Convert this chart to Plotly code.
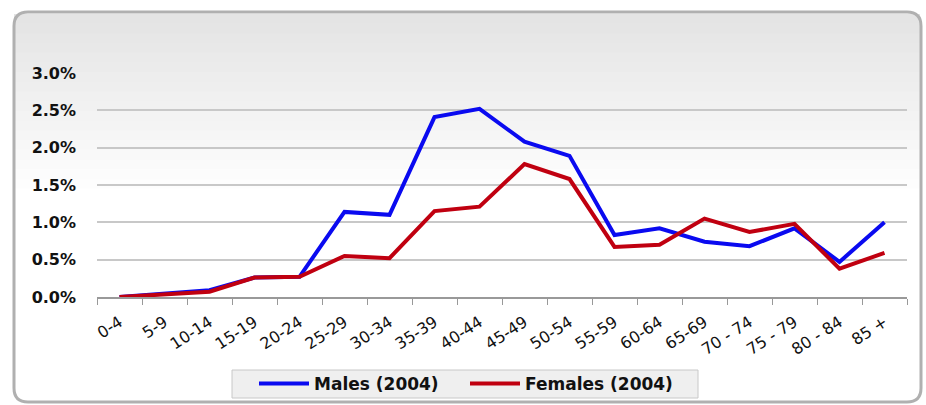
import plotly.graph_objects as go

age_groups = ["0-4", "5-9", "10-14", "15-19", "20-24", "25-29", "30-34", "35-39",
              "40-44", "45-49", "50-54", "55-59", "60-64", "65-69", "70 - 74",
              "75 - 79", "80 - 84", "85 +"]
males_2004 = [0.00, 0.04, 0.09, 0.26, 0.27, 1.14, 1.10, 2.41, 2.52, 2.08, 1.89,
              0.83, 0.92, 0.74, 0.68, 0.92, 0.47, 1.00]
females_2004 = [0.00, 0.04, 0.07, 0.26, 0.27, 0.55, 0.52, 1.15, 1.21, 1.78, 1.58,
                0.67, 0.70, 1.05, 0.87, 0.98, 0.38, 0.59]
y_ticks = [0, 0.5, 1.0, 1.5, 2.0, 2.5, 3.0]
y_tick_labels = ["0.0%", "0.5%", "1.0%", "1.5%", "2.0%", "2.5%", "3.0%"]

W, H = 926, 405
ML, MR, MT, MB = 97, 19, 73, 108
PW, PH = W - ML - MR, H - MT - MB


def px(x):
    return (x - ML) / PW


def py(y):
    return (H - MB - y) / PH


fig = go.Figure()
fig.add_trace(go.Scatter(x=age_groups, y=males_2004, mode="lines", name="Males (2004)",
                         line=dict(color="#0a0af0", width=4)))
fig.add_trace(go.Scatter(x=age_groups, y=females_2004, mode="lines", name="Females (2004)",
                         line=dict(color="#c00010", width=4)))

shapes = []
# gradient background bands
top, bottom = 14, 402
n = 40
for i in range(n):
    y0 = top + (bottom - top) * i / n
    y1 = top + (bottom - top) * (i + 1) / n
    t = min(1.0, i / (n * 0.45))
    g = int(228 + (255 - 228) * t)
    shapes.append(dict(type="rect", xref="paper", yref="paper", layer="below",
                       x0=px(14), x1=px(920), y0=py(y0), y1=py(y1 + 0.5),
                       line=dict(width=0), fillcolor=f"rgb({g},{g},{g})"))


def rounded(x0, y0, x1, y1, r):
    return (f"M {px(x0 + r)},{py(y0)} L {px(x1 - r)},{py(y0)} "
            f"Q {px(x1)},{py(y0)} {px(x1)},{py(y0 + r)} "
            f"L {px(x1)},{py(y1 - r)} Q {px(x1)},{py(y1)} {px(x1 - r)},{py(y1)} "
            f"L {px(x0 + r)},{py(y1)} Q {px(x0)},{py(y1)} {px(x0)},{py(y1 - r)} "
            f"L {px(x0)},{py(y0 + r)} Q {px(x0)},{py(y0)} {px(x0 + r)},{py(y0)} Z")


# legend box
shapes.append(dict(type="rect", xref="paper", yref="paper", layer="above",
                   x0=px(232), x1=px(698), y0=py(370), y1=py(398),
                   line=dict(color="#c8c8c8", width=1), fillcolor="#efefef"))
# frame
shapes.append(dict(type="path", xref="paper", yref="paper", layer="above",
                   path=rounded(14, 12, 921, 402, 14),
                   line=dict(color="#b0b0b0", width=3), fillcolor="rgba(0,0,0,0)"))
fig.update_layout(shapes=shapes)

fig.update_layout(
    width=W, height=H,
    margin=dict(l=ML, r=MR, t=MT, b=MB, autoexpand=False),
    paper_bgcolor="white",
    plot_bgcolor="rgba(0,0,0,0)",
    font=dict(family="DejaVu Sans", color="#111111"),
    showlegend=True,
    legend=dict(orientation="h", x=px(254), xanchor="left", y=py(384), yanchor="middle",
                bgcolor="rgba(0,0,0,0)", borderwidth=0,
                font=dict(size=17, family="DejaVu Sans", weight="bold"),
                entrywidth=146, itemwidth=50, tracegroupgap=0),
    xaxis=dict(type="category", tickangle=-33, tickson="boundaries",
               ticks="outside", ticklen=6, tickcolor="#999999",
               showline=True, linecolor="#999999", linewidth=1.5,
               showgrid=False, tickfont=dict(size=16, color="#111111"),
               ticklabelstandoff=8,
               range=[-0.5, len(age_groups) - 0.5], automargin=False),
    yaxis=dict(range=[0, 3.0], tickvals=y_ticks, ticktext=y_tick_labels,
               showgrid=True, gridcolor="#c8c8c8", gridwidth=1.5,
               zeroline=False, showline=False, ticks="",
               ticklabelstandoff=20, automargin=False,
               tickfont=dict(size=16, color="#111111", weight="bold")),
)

fig.write_html("out.html")
